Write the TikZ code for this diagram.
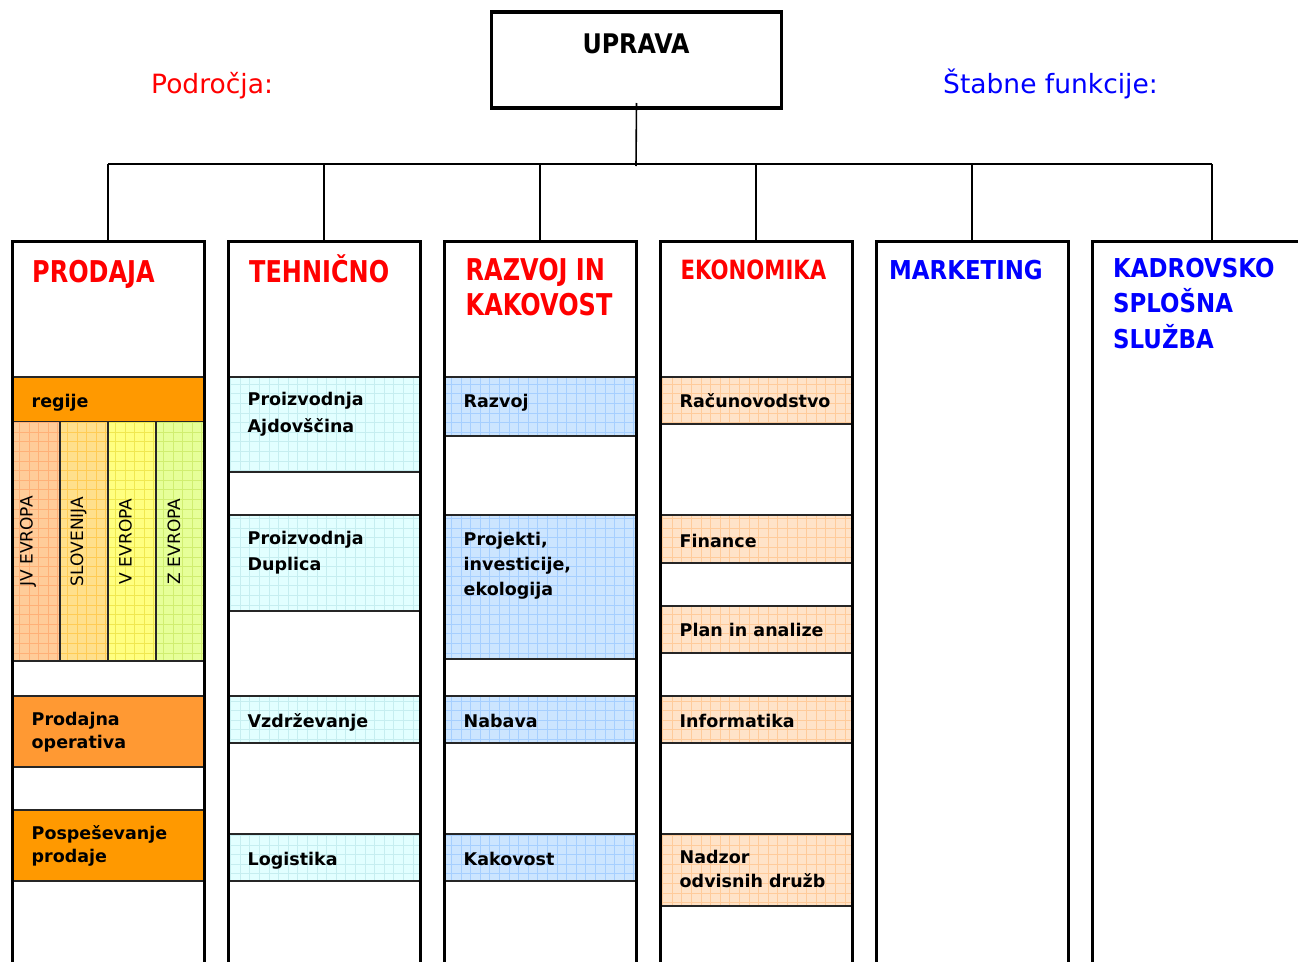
\documentclass[tikz,border=0pt]{standalone}
\usepackage{fontspec}
\setmainfont{DejaVu Sans}
\newfontfamily\hdA[FakeStretch=0.8]{DejaVu Sans}
\newfontfamily\hdB[FakeStretch=0.88]{DejaVu Sans}
\definecolor{orA}{HTML}{FF9900}
\definecolor{orB}{HTML}{FF9933}
\definecolor{cyanF}{HTML}{E2FFFF}
\definecolor{cyanG}{HTML}{C6EEF0}
\definecolor{blueF}{HTML}{CCE5FF}
\definecolor{blueG}{HTML}{A6CFFF}
\definecolor{peachF}{HTML}{FFE3C8}
\definecolor{peachG}{HTML}{FFCB9A}
\definecolor{jvF}{HTML}{FFCC99}
\definecolor{jvG}{HTML}{FFB077}
\definecolor{sloF}{HTML}{FFE08C}
\definecolor{sloG}{HTML}{FFCC55}
\definecolor{vF}{HTML}{FFFF80}
\definecolor{vG}{HTML}{F0E850}
\definecolor{zF}{HTML}{E6FF99}
\definecolor{zG}{HTML}{D0EE70}
\definecolor{redT}{HTML}{FF0000}
\definecolor{blueT}{HTML}{0000FF}
\newcommand\gband[5]{%
  \fill[#4] (#1,#2) rectangle ({#1+192},#3);
  \draw[#5,line width=0.6pt,step=9.6pt] (#1,#2) grid ({#1+192},#3);
  \draw[bandline] (#1,#2) -- ({#1+192},#2) (#1,#3) -- ({#1+192},#3);}
\newcommand\pband[4]{%
  \fill[#4] (#1,#2) rectangle ({#1+192},#3);
  \draw[bandline] (#1,#2) -- ({#1+192},#2) (#1,#3) -- ({#1+192},#3);}
\newcommand\regstrip[3]{%
  \fill[#2] (#1,422) rectangle ({#1+48},661);
  \draw[#3,line width=0.6pt,step=9.6pt] (#1,422) grid ({#1+48},661);
  \draw[bandline] (#1,422) -- (#1,661);}
\begin{document}
\begin{tikzpicture}[x=1pt,y=-1pt,
  bandline/.style={line width=2pt,black!85},
  colbox/.style={draw=black,line width=3pt,minimum width=192pt,minimum height=760pt,inner sep=0pt,outer sep=0pt},
  uprbox/.style={draw=black,line width=3.5pt,minimum width=290pt,minimum height=96pt,inner sep=0pt,outer sep=0pt},
  conn/.style={line width=1.6pt,black},
  hdr/.style={anchor=base west,inner sep=0pt,text=redT,font=\hdA\bfseries\fontsize{30}{35}\selectfont},
  hdrs/.style={anchor=base west,inner sep=0pt,text=redT,font=\hdA\bfseries\fontsize{26.5}{35}\selectfont},
  hdb/.style={anchor=base west,inner sep=0pt,text=blueT,font=\hdB\bfseries\fontsize{26}{35}\selectfont},
  lbl/.style={anchor=base west,inner sep=0pt,font=\fontsize{26.5}{30}\selectfont},
  bt/.style={anchor=base west,inner sep=0pt,font=\bfseries\fontsize{17.5}{24}\selectfont},
  rot/.style={rotate=90,anchor=base,inner sep=0pt,font=\fontsize{17}{20}\selectfont}]
\useasboundingbox (0,0) rectangle (1298,961);
\clip (0,0) rectangle (1298,961);
\fill[white] (0,0) rectangle (1298,961);
% PRODAJA bands
\pband{12}{377}{422}{orA}
\regstrip{12}{jvF}{jvG}
\regstrip{60}{sloF}{sloG}
\regstrip{108}{vF}{vG}
\regstrip{156}{zF}{zG}
\draw[bandline] (12,661) -- (204,661);
\pband{12}{696}{767}{orB}
\pband{12}{810}{881}{orA}
% TEHNICNO bands
\gband{228}{377}{472}{cyanF}{cyanG}
\gband{228}{515}{611}{cyanF}{cyanG}
\gband{228}{696}{743}{cyanF}{cyanG}
\gband{228}{834}{881}{cyanF}{cyanG}
% RAZVOJ bands
\gband{444}{377}{436}{blueF}{blueG}
\gband{444}{515}{659}{blueF}{blueG}
\gband{444}{696}{743}{blueF}{blueG}
\gband{444}{834}{881}{blueF}{blueG}
% EKONOMIKA bands
\gband{660}{377}{424}{peachF}{peachG}
\gband{660}{515}{563}{peachF}{peachG}
\gband{660}{606}{653}{peachF}{peachG}
\gband{660}{696}{743}{peachF}{peachG}
\gband{660}{834}{906}{peachF}{peachG}
% columns
\node[colbox] (prodaja) at (108,621) {};
\node[colbox] (tehnicno) at (324,621) {};
\node[colbox] (razvoj) at (540,621) {};
\node[colbox] (ekonomika) at (756,621) {};
\node[colbox] (marketing) at (972,621) {};
\node[colbox,minimum width=240pt] (kadrovsko) at (1212,621) {};
% top box
\node[uprbox] (upr) at (636.5,60) {};
\node[anchor=base,inner sep=0pt,font=\hdB\bfseries\fontsize{27}{30}\selectfont] (tupr) at (636,53) {UPRAVA};
% connectors
\coordinate (bus) at (636,164);
\draw[conn] ([yshift=5pt]upr.south) -- ([yshift=-2pt]bus);
\draw[conn] (prodaja.north |- bus) -- (kadrovsko.north |- bus);
\foreach \n in {prodaja,tehnicno,razvoj,ekonomika,marketing,kadrovsko}
  \draw[conn] (\n.north |- bus) -- ([yshift=-2pt]\n.north);
% side labels
\node[lbl,text=redT] (lpod) at (151,93) {Področja:};
\node[lbl,text=blueT] (lstab) at (943,93) {Štabne funkcije:};
% headers
\node[hdr] (hprod) at (32,282) {PRODAJA};
\node[hdr] (hteh) at (249,282) {TEHNIČNO};
\node[hdr] (hraz) at (465.5,280) {\vtop{\baselineskip=35pt\hbox{RAZVOJ IN}\hbox{KAKOVOST}}};
\node[hdrs] (heko) at (680.5,279) {EKONOMIKA};
\node[hdb] (hmar) at (889,279) {MARKETING};
\node[hdb] (hkad) at (1113,277) {\vtop{\baselineskip=35.5pt\hbox{KADROVSKO}\hbox{SPLOŠNA}\hbox{SLUŽBA}}};
% rotated region labels
\node[rot] (sjv) at (32.5,541.5) {JV EVROPA};
\node[rot] (sslo) at (83,541.5) {SLOVENIJA};
\node[rot] (sv) at (131.5,541.5) {V EVROPA};
\node[rot] (sz) at (180,541.5) {Z EVROPA};
% band texts
\node[bt] (trg) at (31.5,407) {regije};
\node[bt] (tpo) at (31.5,725) {\vtop{\baselineskip=23.5pt\hbox{Prodajna}\hbox{operativa}}};
\node[bt] (tpp) at (31.5,839) {\vtop{\baselineskip=23.5pt\hbox{Pospeševanje}\hbox{prodaje}}};
\node[bt] (tpa) at (247.5,405) {\vtop{\baselineskip=27pt\hbox{Proizvodnja}\hbox{Ajdovščina}}};
\node[bt] (tpd) at (247.5,544) {\vtop{\baselineskip=26pt\hbox{Proizvodnja}\hbox{Duplica}}};
\node[bt] (tvz) at (247.5,727) {Vzdrževanje};
\node[bt] (tlo) at (247.5,865) {Logistika};
\node[bt] (trz) at (463.5,407) {Razvoj};
\node[bt] (tpr) at (463.5,545) {\vtop{\baselineskip=25pt\hbox{Projekti,}\hbox{investicije,}\hbox{ekologija}}};
\node[bt] (tna) at (463.5,727) {Nabava};
\node[bt] (tka) at (463.5,865) {Kakovost};
\node[bt] (tra) at (679.5,407) {Računovodstvo};
\node[bt] (tfi) at (679.5,547) {Finance};
\node[bt] (tpl) at (679.5,636) {Plan in analize};
\node[bt] (tin) at (679.5,727) {Informatika};
\node[bt] (tnd) at (679.5,863) {\vtop{\baselineskip=24pt\hbox{Nadzor}\hbox{odvisnih družb}}};
\end{tikzpicture}
\end{document}
